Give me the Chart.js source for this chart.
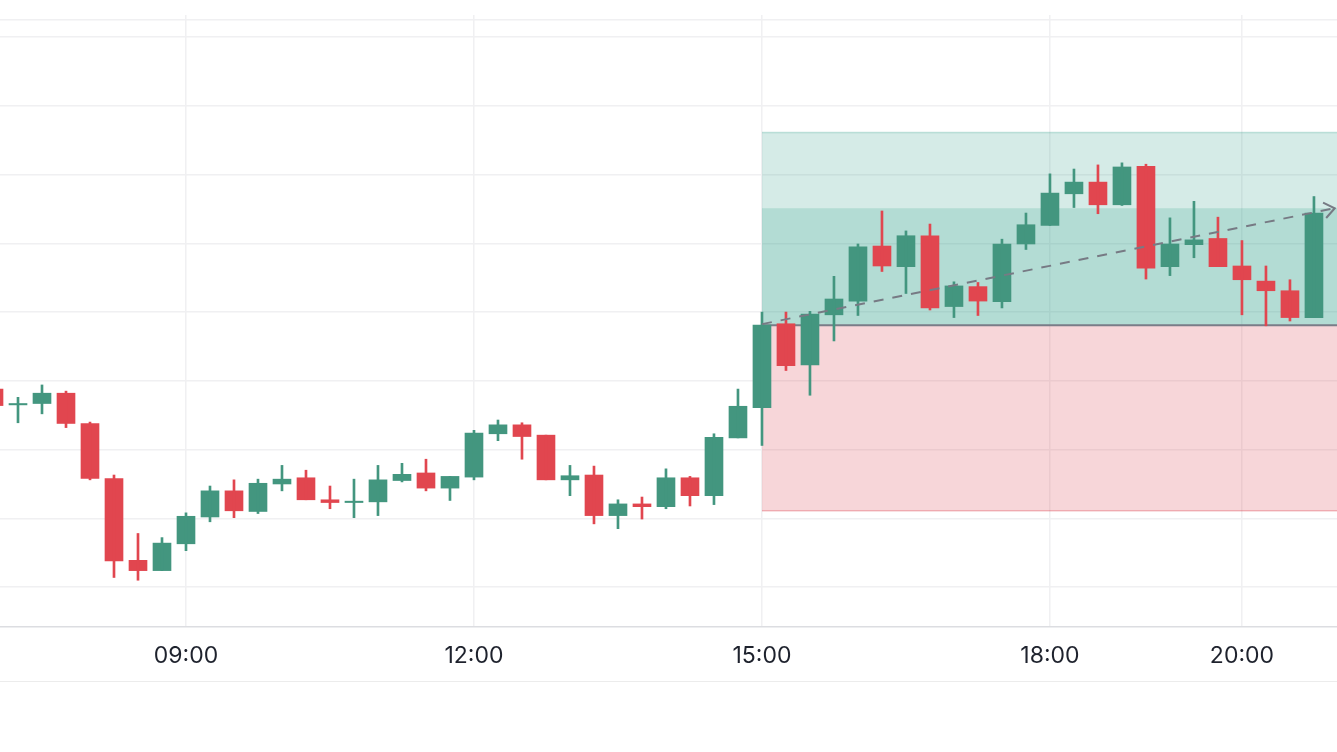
<!DOCTYPE html>
<html>
<head>
<meta charset="utf-8">
<script src="https://cdn.jsdelivr.net/npm/chart.js@4.4.1/dist/chart.umd.min.js"></script>
<style>
  html, body { margin: 0; padding: 0; background: #fff; }
  #wrap { position: relative; width: 1337px; height: 681px; border-bottom: 1.5px solid #ececec; }
</style>
</head>
<body>
<div id="wrap"><canvas id="chart_candles"></canvas></div>
<script>
// 15-minute candles
var times = ['07:00','07:15','07:30','07:45','08:00','08:15','08:30','08:45',
    '09:00','09:15','09:30','09:45','10:00','10:15','10:30','10:45',
    '11:00','11:15','11:30','11:45','12:00','12:15','12:30','12:45',
    '13:00','13:15','13:30','13:45','14:00','14:15','14:30','14:45',
    '15:00','15:15','15:30','15:45','16:00','16:15','16:30','16:45',
    '17:00','17:15','17:30','17:45','18:00','18:15','18:30','18:45',
    '19:00','19:15','19:30','19:45','20:00','20:15','20:30','20:45'];
var opens = [1928.8, 1926.5, 1926.7, 1928.2, 1923.8, 1915.8, 1903.9, 1902.4,
    1906.3, 1910.2, 1914.0, 1911.0, 1915.0, 1915.9, 1912.7, 1912.3,
    1912.4, 1915.5, 1916.6, 1914.4, 1916.0, 1922.3, 1923.6, 1922.1,
    1915.6, 1916.3, 1910.4, 1912.1, 1911.7, 1915.9, 1913.3, 1921.7,
    1926.1, 1938.3, 1932.3, 1939.6, 1941.6, 1949.6, 1946.6, 1951.1,
    1940.8, 1943.7, 1941.5, 1949.9, 1952.6, 1957.2, 1958.9, 1955.6,
    1961.2, 1946.6, 1949.8, 1950.7, 1946.7, 1944.5, 1943.1, 1939.2];
var highs = [1929.1, 1927.6, 1929.4, 1928.5, 1924.0, 1916.3, 1907.8, 1907.2,
    1910.8, 1914.7, 1915.6, 1915.7, 1917.7, 1917.0, 1914.7, 1915.7,
    1917.7, 1918.0, 1918.6, 1916.1, 1922.8, 1924.3, 1923.9, 1922.1,
    1917.7, 1917.6, 1912.7, 1913.1, 1917.2, 1916.1, 1922.3, 1928.8,
    1940.0, 1940.0, 1940.1, 1945.2, 1949.9, 1954.7, 1951.8, 1952.8,
    1944.4, 1944.3, 1950.6, 1954.4, 1960.1, 1960.8, 1961.4, 1961.7,
    1961.5, 1953.7, 1956.1, 1953.8, 1950.4, 1946.7, 1944.7, 1956.8];
var lows = [1926.2, 1923.9, 1925.2, 1923.2, 1915.6, 1901.4, 1901.0, 1902.4,
    1905.3, 1909.5, 1910.1, 1910.7, 1914.0, 1912.7, 1911.4, 1910.1,
    1910.4, 1915.3, 1914.0, 1912.6, 1915.6, 1921.3, 1918.6, 1915.6,
    1913.3, 1909.2, 1908.5, 1909.9, 1911.4, 1911.8, 1912.0, 1921.7,
    1920.6, 1931.5, 1927.9, 1935.8, 1939.5, 1945.9, 1942.7, 1940.3,
    1939.2, 1939.5, 1940.6, 1949.1, 1952.6, 1955.2, 1954.3, 1955.5,
    1944.8, 1945.3, 1947.9, 1946.6, 1939.6, 1938.0, 1938.7, 1939.2];
var closes = [1926.4, 1926.7, 1928.2, 1923.8, 1915.8, 1903.8, 1902.4, 1906.4,
    1910.3, 1914.0, 1911.1, 1915.1, 1915.7, 1912.7, 1912.3, 1912.5,
    1915.6, 1916.4, 1914.4, 1916.1, 1922.4, 1923.6, 1921.9, 1915.6,
    1916.2, 1910.4, 1912.1, 1911.7, 1915.9, 1913.3, 1921.8, 1926.3,
    1938.1, 1932.2, 1939.7, 1941.9, 1949.5, 1946.7, 1951.1, 1940.6,
    1943.8, 1941.6, 1949.9, 1952.7, 1957.3, 1958.9, 1955.6, 1961.1,
    1946.4, 1949.9, 1950.5, 1946.6, 1944.7, 1943.1, 1939.2, 1954.4];
var tickTimes = ['09:00', '12:00', '15:00', '18:00', '20:00'];
var priceLines = [1900, 1910, 1920, 1930, 1940, 1950, 1960, 1970, 1980, 1982.5];

// long position drawing
var entryPrice = 1938.1;
var targetPrice = 1966.1;
var stopPrice = 1911.1;
var lastPrice = 1955.1;
var positionStart = '15:00';
var arrowEnd = '20:58';

var upColor = '#43967f';
var downColor = '#e1464f';

function toMin(s) {
    var p = s.split(':');
    return parseInt(p[0], 10) * 60 + parseInt(p[1], 10);
}
function toLabel(m) {
    var h = Math.floor(m / 60), mm = m % 60;
    return (h < 10 ? '0' : '') + h + ':' + (mm < 10 ? '0' : '') + mm;
}
function candleColor(ctx) {
    var i = ctx.dataIndex;
    return closes[i] >= opens[i] ? upColor : downColor;
}

var wicks = times.map(function (t, i) { return { x: toMin(t), y: [lows[i], highs[i]] }; });
var bodies = times.map(function (t, i) { return { x: toMin(t), y: [opens[i], closes[i]] }; });

var positionTool = {
    id: 'positionTool',
    beforeDatasetsDraw: function (chart) {
        var c = chart.ctx, area = chart.chartArea;
        var xs = chart.scales.x, ys = chart.scales.y;
        var x0 = xs.getPixelForValue(toMin(positionStart));
        var x1 = area.right;
        var yEntry = ys.getPixelForValue(entryPrice);
        var yTarget = ys.getPixelForValue(targetPrice);
        var yStop = ys.getPixelForValue(stopPrice);
        var yLast = ys.getPixelForValue(lastPrice);
        c.save();
        c.beginPath();
        c.rect(area.left, area.top, area.width, area.height);
        c.clip();
        // profit zone
        c.fillStyle = 'rgba(30, 150, 128, 0.19)';
        c.fillRect(x0, yTarget, x1 - x0, yEntry - yTarget);
        // filled part up to current price
        c.fillStyle = 'rgba(30, 155, 128, 0.18)';
        c.fillRect(x0, yLast, x1 - x0, yEntry - yLast);
        // loss zone
        c.fillStyle = 'rgba(215, 50, 64, 0.2)';
        c.fillRect(x0, yEntry, x1 - x0, yStop - yEntry);
        // edges
        c.lineWidth = 1.5;
        c.strokeStyle = 'rgba(30, 150, 128, 0.25)';
        c.beginPath(); c.moveTo(x0, yTarget); c.lineTo(x1, yTarget); c.stroke();
        c.strokeStyle = 'rgba(215, 50, 64, 0.3)';
        c.beginPath(); c.moveTo(x0, yStop); c.lineTo(x1, yStop); c.stroke();
        c.strokeStyle = '#7a7d88';
        c.lineWidth = 2;
        c.beginPath(); c.moveTo(x0, yEntry); c.lineTo(x1, yEntry); c.stroke();
        c.restore();
    },
    afterDatasetsDraw: function (chart) {
        var c = chart.ctx;
        var xs = chart.scales.x, ys = chart.scales.y;
        var ax = xs.getPixelForValue(toMin(positionStart));
        var ay = ys.getPixelForValue(entryPrice) - 1;
        var bx = xs.getPixelForValue(toMin(arrowEnd));
        var by = ys.getPixelForValue(lastPrice);
        var ang = Math.atan2(by - ay, bx - ax);
        c.save();
        c.strokeStyle = '#777a84';
        c.lineWidth = 2;
        c.setLineDash([10, 9]);
        c.beginPath(); c.moveTo(ax, ay); c.lineTo(bx, by); c.stroke();
        c.setLineDash([]);
        c.beginPath();
        c.moveTo(bx - 13 * Math.cos(ang - 0.65), by - 13 * Math.sin(ang - 0.65));
        c.lineTo(bx, by);
        c.lineTo(bx - 13 * Math.cos(ang + 0.65), by - 13 * Math.sin(ang + 0.65));
        c.stroke();
        c.restore();
    }
};

var config = {
    type: 'bar',
    data: {
        datasets: [{
            data: wicks,
            backgroundColor: candleColor,
            barThickness: 2,
            grouped: false,
            borderWidth: 0,
            borderSkipped: false
        }, {
            data: bodies,
            backgroundColor: candleColor,
            barThickness: 18,
            grouped: false,
            borderWidth: 0,
            borderSkipped: false
        }]
    },
    options: {
        responsive: true,
        maintainAspectRatio: false,
        animation: false,
        layout: { padding: { top: 15, left: 0, right: 0, bottom: 0 } },
        plugins: {
            legend: { display: false },
            tooltip: { enabled: false }
        },
        scales: {
            x: {
                type: 'linear',
                offset: false,
                min: 423.75,
                max: 1259.4,
                afterBuildTicks: function (scale) {
                    scale.ticks = tickTimes.map(function (t) { return { value: toMin(t) }; });
                },
                afterFit: function (scale) { scale.height = 54; },
                ticks: {
                    autoSkip: false,
                    maxRotation: 0,
                    padding: 15,
                    color: '#1e222d',
                    font: { family: 'Inter', size: 23 },
                    callback: function (v) { return toLabel(v); }
                },
                grid: { offset: false, color: '#f0f0f2', lineWidth: 1.5, drawTicks: false },
                border: { color: '#dcdde1', width: 1.5 }
            },
            y: {
                min: 1894.2,
                max: 1983.2,
                afterBuildTicks: function (scale) {
                    scale.ticks = priceLines.map(function (p) { return { value: p }; });
                },
                afterFit: function (scale) { scale.width = 0; },
                ticks: { display: false },
                grid: { color: '#f0f0f2', lineWidth: 1.5, drawTicks: false },
                border: { display: false }
            }
        }
    },
    plugins: [positionTool]
};

var chart_candles = new Chart(document.getElementById('chart_candles').getContext('2d'), config);
</script>
</body>
</html>
